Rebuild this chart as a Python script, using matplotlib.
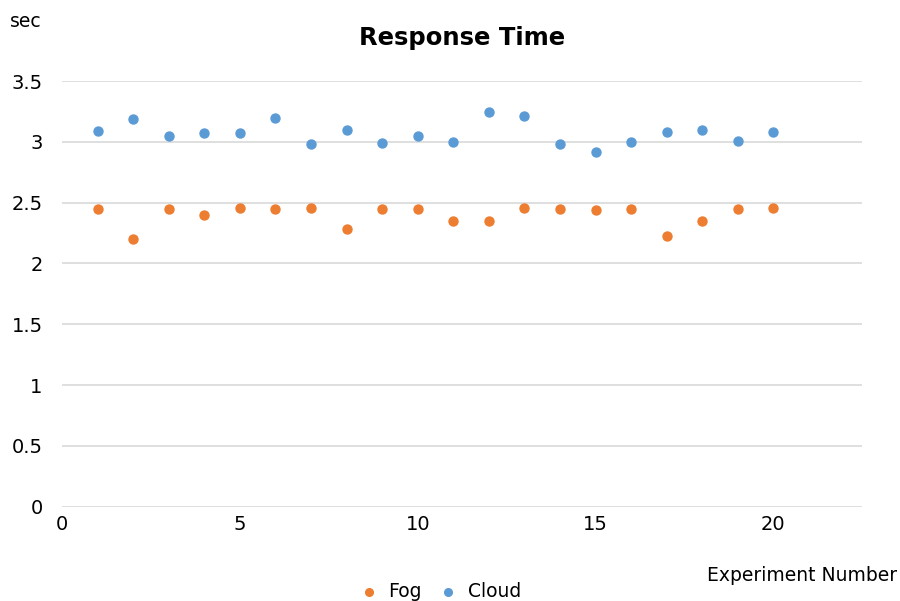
import matplotlib.pyplot as plt

# -------- DATA ------------------------------------------------------
experiments = list(range(1, 21))
fog = [2.45, 2.20, 2.45, 2.40, 2.46, 2.45, 2.46, 2.28, 2.45, 2.45,
       2.35, 2.35, 2.46, 2.45, 2.44, 2.45, 2.23, 2.35, 2.45, 2.46]
cloud = [3.09, 3.19, 3.05, 3.07, 3.07, 3.20, 2.98, 3.10, 2.99, 3.05,
         3.00, 3.25, 3.21, 2.98, 2.92, 3.00, 3.08, 3.10, 3.01, 3.08]
x_ticks = [0, 5, 10, 15, 20]
y_ticks = [0, 0.5, 1, 1.5, 2, 2.5, 3, 3.5]
# --------------------------------------------------------------------

FOG_COLOR = "#ED7D31"
CLOUD_COLOR = "#5B9BD5"


def main():
    fig = plt.figure(figsize=(9, 6.01), dpi=100)
    ax = fig.add_axes([0.069, 0.157, 0.889, 0.708])

    ax.scatter(experiments, fog, s=42, color=FOG_COLOR, label="Fog", zorder=3)
    ax.scatter(experiments, cloud, s=42, color=CLOUD_COLOR, label="Cloud", zorder=3)

    ax.set_xlim(0, 22.5)
    ax.set_ylim(0, 3.5)
    ax.set_xticks(x_ticks)
    ax.set_yticks(y_ticks)
    ax.set_yticklabels([f"{v:g}" for v in y_ticks])

    ax.grid(axis="y", color="#d9d9d9", linewidth=1.2)
    ax.set_axisbelow(True)
    for spine in ax.spines.values():
        spine.set_visible(False)
    ax.tick_params(length=0, labelsize=14)
    ax.tick_params(axis="x", pad=6)
    ax.tick_params(axis="y", pad=14)

    ax.set_title("Response Time", fontsize=17.5, fontweight="bold", pad=26)
    fig.text(0.011, 0.965, "sec", fontsize=13.5, va="center", ha="left")
    fig.text(0.997, 0.042, "Experiment Number", fontsize=13.5, va="center", ha="right")

    fig.legend(loc="center", bbox_to_anchor=(0.484, 0.016), ncol=2, frameon=False,
               fontsize=13.5, handletextpad=0.05, columnspacing=0.4, markerscale=0.85)

    fig.savefig("out.png", dpi=100)


if __name__ == "__main__":
    main()
